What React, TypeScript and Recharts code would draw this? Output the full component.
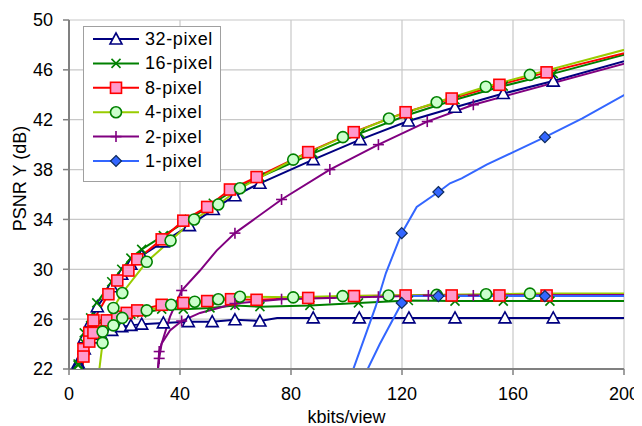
import React from 'react';
import { LineChart, Line, XAxis, YAxis, CartesianGrid } from 'recharts';

type P = [number, number] | [number, number, number];

const X_TICKS = [0, 40, 80, 120, 160, 200];
const Y_TICKS = [22, 26, 30, 34, 38, 42, 46, 50];
const LEGEND_LABELS = ['32-pixel', '16-pixel', '8-pixel', '4-pixel', '2-pixel', '1-pixel'];

// third element 0 = line vertex without marker
const px32Hi: P[] = [[3.3,22.5],[5.5,24.5],[7.8,25.8],[10.2,27.0],[15.4,28.6],[19,29.6],[22.3,30.4],[26.2,31.1],[34,32.2],[43.4,33.5],[52,34.8],[59.8,35.9],[68.8,36.9],[88,38.8],[104.9,40.4],[122.3,41.9],[139.1,43.0],[156.5,44.1],[174.5,45.1],[205,47.0,0]];
const px32Lo: P[] = [[3.3,22.3],[5.5,23.6],[8.8,24.5],[11.5,24.8],[15.4,25.1],[19,25.4],[22.3,25.5],[26.2,25.6],[34,25.7],[43,25.8],[51.6,25.8],[59.8,25.95],[68.8,25.85],[75,26.1,0],[88,26.1],[104.6,26.1],[122.5,26.1],[139.1,26.1],[157.1,26.1],[174.5,26.1],[205,26.1,0]];

const px16Hi: P[] = [[3.3,22.4],[5.5,24.9],[7.8,26.1],[10,27.3],[15.4,29.0],[19,30.0],[22.3,30.9],[26.2,31.6],[34,32.7],[43.4,34.0],[52,35.3],[59.8,36.4],[68.8,37.4],[88,39.3],[104.9,40.9],[122.3,42.4],[139.1,43.6],[156.5,44.7],[174.5,45.7],[205,47.5,0]];
const px16Lo: P[] = [[3.3,22.3],[5.5,24.1],[7.8,25.0],[10,25.6],[15.4,26.0],[19,26.2],[22.3,26.4],[26.2,26.5],[33.4,26.8],[41.2,26.8],[50.8,26.9],[59.8,27.1],[68.8,27.0],[86.8,27.1],[104.3,27.3],[122.3,27.5],[139.1,27.45],[156.5,27.45],[173.3,27.45],[205,27.45,0]];

const px8Hi: P[] = [[5.2,23.6],[7.3,24.9],[8.8,25.9],[14.2,28.0],[17.4,29.1],[21.4,29.9],[24.6,30.8],[33.4,32.4],[41.2,33.9],[49.8,35.0],[58,36.4],[67.6,37.4],[86.2,39.4],[102.6,41.0],[121.3,42.6],[137.9,43.7],[155.1,44.8],[172.1,45.8],[205,47.6,0]];
const px8Lo: P[] = [[4.6,21,0],[5.2,23.0],[7.3,24.2],[8.8,24.9],[13.6,25.9],[17.4,26.2],[20.8,26.5],[24.6,26.7],[33.4,27.15],[41.2,27.3],[49.8,27.45],[58.4,27.6],[67.6,27.55],[86.2,27.7],[102.7,27.85],[121.3,27.9],[137.9,27.9],[155.1,27.9],[172.1,27.9],[205,27.95,0]];

const px4Hi: P[] = [[10.4,21,0],[12.1,24.1],[16,26.9],[19.2,28.1],[28,30.6],[36.6,32.3],[45.1,34.0],[53.8,35.2],[61.6,36.5],[80.8,38.8],[98.7,40.6],[115.3,42.1],[132.5,43.4],[150.2,44.65],[166.1,45.6],[205,47.9,0]];
const px4Lo: P[] = [[12.1,25.0],[16,25.5],[19.2,26.1],[28,26.7],[36.8,27.15],[45.3,27.4],[53.8,27.6],[61.6,27.8],[80.8,27.75],[98.6,27.85],[115.1,27.9],[132.5,27.95],[150.3,28.0],[166.1,28.05],[205,28.05,0]];

const px2Hi: P[] = [[31.7,21,0],[32.5,23.4],[36.4,26.2,0],[40.6,28.3],[47.2,29.9,0],[53.2,31.5,0],[59.8,32.9],[76.6,35.6],[94,38.0],[111.5,40.0],[129.1,41.85],[145.7,43.2],[205,46.8,0]];
const px2Lo: P[] = [[31.6,21,0],[32.5,22.85],[33.4,24.05,0],[36.4,25.1,0],[40.6,25.85],[47.2,26.5,0],[59.8,27.25],[76.6,27.6],[94,27.7],[111.5,27.8],[129.5,27.9],[145.7,27.9],[205,27.95,0]];

const px1Hi: P[] = [[101.5,21.4,0],[110.5,27.0,0],[114.2,29.7,0],[119.9,32.9],[125.3,35.0,0],[133.1,36.2],[137.3,36.9,0],[141.5,37.3,0],[150.5,38.4,0],[160.1,39.4,0],[171.5,40.6],[185,42.1,0],[205,44.6,0]];
const px1Lo: P[] = [[105,20.8,0],[112,24.0,0],[119.9,27.3],[124,27.85,0],[133.1,27.85],[171.5,27.85],[205,27.85,0]];

type Kind = 'triangle' | 'x' | 'square' | 'circle' | 'plus' | 'diamond';

const SERIES: { name: string; color: string; kind: Kind; hi: P[]; lo: P[] }[] = [
  { name: LEGEND_LABELS[0], color: '#000080', kind: 'triangle', hi: px32Hi, lo: px32Lo },
  { name: LEGEND_LABELS[1], color: '#008000', kind: 'x', hi: px16Hi, lo: px16Lo },
  { name: LEGEND_LABELS[2], color: '#FF0000', kind: 'square', hi: px8Hi, lo: px8Lo },
  { name: LEGEND_LABELS[3], color: '#99CC00', kind: 'circle', hi: px4Hi, lo: px4Lo },
  { name: LEGEND_LABELS[4], color: '#800080', kind: 'plus', hi: px2Hi, lo: px2Lo },
  { name: LEGEND_LABELS[5], color: '#3366FF', kind: 'diamond', hi: px1Hi, lo: px1Lo },
];

const toData = (pts: P[]) => pts.map((p) => ({ x: p[0], y: p[1], m: p.length > 2 ? p[2] : 1 }));

const FONT = '"Liberation Sans", Arial, sans-serif';

function Marker({ kind, cx, cy }: { kind: Kind; cx: number; cy: number }) {
  switch (kind) {
    case 'triangle':
      return (
        <polygon
          points={`${cx},${cy - 6} ${cx + 6},${cy + 5} ${cx - 6},${cy + 5}`}
          fill="#FFFFFF"
          stroke="#000080"
          strokeWidth={1.6}
        />
      );
    case 'x':
      return (
        <g stroke="#008000" strokeWidth={1.6}>
          <line x1={cx - 4.5} y1={cy - 4.5} x2={cx + 4.5} y2={cy + 4.5} />
          <line x1={cx - 4.5} y1={cy + 4.5} x2={cx + 4.5} y2={cy - 4.5} />
        </g>
      );
    case 'square':
      return <rect x={cx - 5.5} y={cy - 5.5} width={11} height={11} fill="#FF99CC" stroke="#FF0000" strokeWidth={1.6} />;
    case 'circle':
      return <circle cx={cx} cy={cy} r={5.5} fill="#CCFFCC" stroke="#008000" strokeWidth={1.6} />;
    case 'plus':
      return (
        <g stroke="#800080" strokeWidth={1.6}>
          <line x1={cx - 5.5} y1={cy} x2={cx + 5.5} y2={cy} />
          <line x1={cx} y1={cy - 5.5} x2={cx} y2={cy + 5.5} />
        </g>
      );
    case 'diamond':
      return (
        <polygon
          points={`${cx},${cy - 5.5} ${cx + 5.5},${cy} ${cx},${cy + 5.5} ${cx - 5.5},${cy}`}
          fill="#3366FF"
          stroke="#0F2C5C"
          strokeWidth={1.2}
        />
      );
  }
  return null;
}

const makeDot = (kind: Kind, id: string) => (props: any) => {
  const { cx, cy, payload, index } = props;
  if (!payload || payload.m === 0 || cx == null || cy == null) return <g key={`${id}-${index}`} />;
  return (
    <g key={`${id}-${index}`}>
      <Marker kind={kind} cx={cx} cy={cy} />
    </g>
  );
};

const W = 634;
const H = 418;

function LegendBox() {
  return (
    <svg width={W} height={H} style={{ position: 'absolute', left: 0, top: 0, pointerEvents: 'none' }}>
      <rect x={75.5} y={18.5} width={137} height={155} fill="#FFFFFF" stroke="#A0A0A0" strokeWidth={1} />
      {SERIES.map((s, i) => {
        const y = 31 + i * 24.4;
        return (
          <g key={s.name}>
            <line x1={85} y1={y} x2={131} y2={y} stroke={s.color} strokeWidth={2} />
            <Marker kind={s.kind} cx={108} cy={y} />
            <text x={137} y={y} dominantBaseline="central" fontSize={18} fontFamily={FONT} fill="#000" letterSpacing={0.6}>
              {s.name}
            </text>
          </g>
        );
      })}
    </svg>
  );
}

export default function App() {
  const axisStroke = { stroke: '#808080', strokeWidth: 2 };
  return (
    <div style={{ position: 'relative', width: W, height: H }}>
      <LineChart width={W} height={H} margin={{ top: 12, right: 18, bottom: 0, left: 0 }}>
        <CartesianGrid stroke="#C8C8C8" strokeWidth={1.2} />
        <XAxis
          type="number"
          dataKey="x"
          domain={[0, 200]}
          ticks={X_TICKS}
          allowDataOverflow
          height={57}
          tickSize={6}
          tickMargin={12}
          axisLine={axisStroke}
          tickLine={{ stroke: '#808080', strokeWidth: 1.5 }}
          tick={{ fontSize: 18, fill: '#000', fontFamily: FONT }}
          label={(p: any) => {
            const vb = p.viewBox;
            return (
              <text x={vb.x + vb.width / 2} y={vb.y + 54} textAnchor="middle" fontSize={18} fontFamily={FONT} fill="#000">
                kbits/view
              </text>
            );
          }}
        />
        <XAxis
          xAxisId="top"
          orientation="top"
          type="number"
          domain={[0, 200]}
          height={0}
          tick={false}
          tickLine={false}
          axisLine={axisStroke}
        />
        <YAxis
          type="number"
          domain={[22, 50]}
          ticks={Y_TICKS}
          allowDataOverflow
          width={61}
          tickSize={6}
          tickMargin={10}
          axisLine={axisStroke}
          tickLine={{ stroke: '#808080', strokeWidth: 1.5 }}
          tick={{ fontSize: 18, fill: '#000', fontFamily: FONT }}
          label={(p: any) => {
            const vb = p.viewBox;
            const cx = 12;
            const cy = vb.y + vb.height / 2 - 16;
            return (
              <text
                x={cx}
                y={cy}
                transform={`rotate(-90, ${cx}, ${cy})`}
                textAnchor="middle"
                dominantBaseline="central"
                fontSize={18}
                fontFamily={FONT}
                fill="#000"
              >
                PSNR Y (dB)
              </text>
            );
          }}
        />
        <YAxis
          yAxisId="right"
          orientation="right"
          type="number"
          domain={[22, 50]}
          width={0}
          tick={false}
          tickLine={false}
          axisLine={axisStroke}
        />
        {SERIES.flatMap((s) => [
          <Line
            key={`${s.name}-hi`}
            data={toData(s.hi)}
            dataKey="y"
            type="linear"
            stroke={s.color}
            strokeWidth={2}
            dot={makeDot(s.kind, `${s.name}-hi`)}
            activeDot={false}
            isAnimationActive={false}
            legendType="none"
          />,
          <Line
            key={`${s.name}-lo`}
            data={toData(s.lo)}
            dataKey="y"
            type="linear"
            stroke={s.color}
            strokeWidth={2}
            dot={makeDot(s.kind, `${s.name}-lo`)}
            activeDot={false}
            isAnimationActive={false}
            legendType="none"
          />,
        ])}
      </LineChart>
      <LegendBox />
    </div>
  );
}
